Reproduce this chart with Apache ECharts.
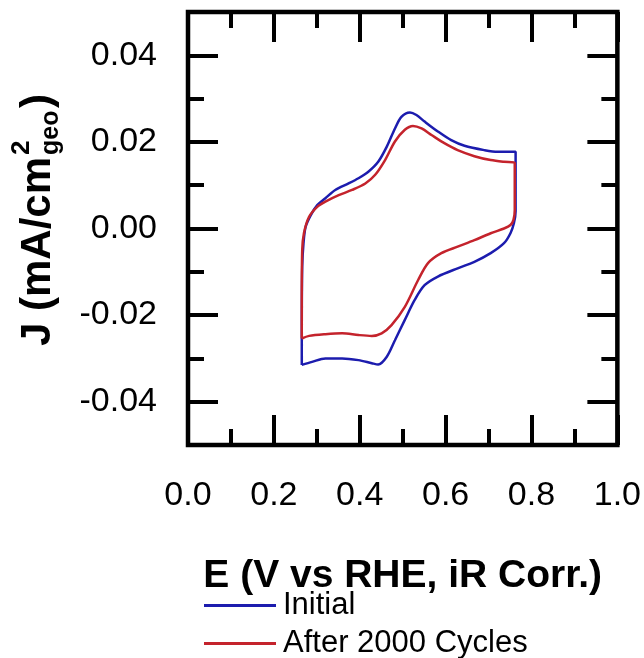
<!DOCTYPE html>
<html>
<head>
<meta charset="utf-8">
<script src="https://cdn.jsdelivr.net/npm/echarts@6/dist/echarts.min.js"></script>
<style>
html,body{margin:0;padding:0;background:#fff;}
#chart{width:644px;height:658px;}
</style>
</head>
<body>
<div id="chart"></div>
<script>
// ---- data ----
const seriesNames = ['Initial', 'After 2000 Cycles'];

const initialE = [0.265, 0.265, 0.266, 0.269, 0.274, 0.286, 0.301, 0.320, 0.343, 0.374, 0.397, 0.420, 0.443, 0.463, 0.482, 0.497, 0.517, 0.532, 0.551, 0.582, 0.613, 0.644, 0.690, 0.721, 0.763, 0.763, 0.759, 0.751, 0.736, 0.705, 0.667, 0.628, 0.582, 0.551, 0.528, 0.505, 0.482, 0.463, 0.443, 0.428, 0.397, 0.359, 0.320, 0.289, 0.265];
const initialJ = [-0.0315, -0.0242, -0.0088, -0.0034, 0.0004, 0.0031, 0.0054, 0.0070, 0.0089, 0.0104, 0.0116, 0.0131, 0.0154, 0.0189, 0.0231, 0.0258, 0.0268, 0.0262, 0.0247, 0.0224, 0.0204, 0.0191, 0.0181, 0.0177, 0.0177, 0.0040, 0.0012, -0.0011, -0.0034, -0.0057, -0.0077, -0.0092, -0.0111, -0.0131, -0.0165, -0.0211, -0.0258, -0.0296, -0.0314, -0.0311, -0.0304, -0.0300, -0.0300, -0.0308, -0.0315];

const afterE = [0.265, 0.265, 0.266, 0.270, 0.282, 0.301, 0.320, 0.351, 0.382, 0.413, 0.436, 0.459, 0.482, 0.505, 0.524, 0.544, 0.567, 0.597, 0.628, 0.667, 0.705, 0.736, 0.761, 0.761, 0.758, 0.751, 0.736, 0.705, 0.667, 0.628, 0.590, 0.559, 0.536, 0.505, 0.474, 0.451, 0.428, 0.397, 0.359, 0.320, 0.282, 0.265];
const afterJ = [-0.0254, -0.0165, -0.0050, -0.0011, 0.0027, 0.0050, 0.0062, 0.0077, 0.0089, 0.0104, 0.0124, 0.0158, 0.0201, 0.0228, 0.0237, 0.0231, 0.0216, 0.0197, 0.0181, 0.0167, 0.0158, 0.0154, 0.0152, 0.0043, 0.0020, 0.0008, 0.0000, -0.0011, -0.0027, -0.0042, -0.0057, -0.0080, -0.0119, -0.0181, -0.0223, -0.0242, -0.0248, -0.0246, -0.0242, -0.0244, -0.0248, -0.0254];

const xMajorTicks = [0.0, 0.2, 0.4, 0.6, 0.8, 1.0];
const xMinorTicks = [0.1, 0.3, 0.5, 0.7, 0.9];
const yMajorTicks = [-0.04, -0.02, 0.00, 0.02, 0.04];
const yMinorTicks = [-0.03, -0.01, 0.01, 0.03];

// ---- chart ----
const FONT = '"Liberation Sans", Arial, sans-serif';
const colors = ['#1c1cae', '#c4232c'];

function pairs(xs, ys) { return xs.map((x, i) => [x, ys[i]]); }

function tickAxis(kind, pos, values, len, withLabels) {
  const ax = {
    type: 'value', position: pos, offset: 0,
    min: kind === 'x' ? 0 : -0.05,
    max: kind === 'x' ? 1 : 0.05,
    axisLine: { show: false, onZero: false },
    splitLine: { show: false },
    axisTick: { show: true, inside: true, length: len, customValues: values,
                lineStyle: { color: '#000', width: 4 } },
    axisLabel: { show: false }
  };
  if (withLabels) {
    ax.axisLabel = {
      show: true, customValues: values,
      fontFamily: FONT, fontSize: 34, color: '#000',
      margin: kind === 'x' ? 34 : 31,
      formatter: v => kind === 'x' ? v.toFixed(1) : v.toFixed(2)
    };
  }
  return ax;
}

function legendFor(name, top) {
  return {
    data: [name], orient: 'vertical', left: 199, top: top,
    icon: 'rect', itemWidth: 72, itemHeight: 3,
    textStyle: { fontFamily: FONT, fontSize: 31, color: '#000', padding: [0, 0, 0, 2] }
  };
}

const chart = echarts.init(document.getElementById('chart'), null, { renderer: 'canvas' });
chart.setOption({
  backgroundColor: '#fff',
  animation: false,
  grid: { left: 188, right: 23, top: 12, bottom: 213, show: true,
          borderColor: '#000', borderWidth: 4.5, backgroundColor: 'transparent' },
  xAxis: [
    Object.assign(tickAxis('x', 'bottom', xMajorTicks, 30, true), {
      name: 'E (V vs RHE, iR Corr.)', nameLocation: 'middle', nameGap: 112,
      nameTextStyle: { fontFamily: FONT, fontSize: 39, fontWeight: 'bold', color: '#000' }
    }),
    tickAxis('x', 'bottom', xMinorTicks, 16, false),
    tickAxis('x', 'top', xMajorTicks, 30, false),
    tickAxis('x', 'top', xMinorTicks, 16, false)
  ],
  yAxis: [
    tickAxis('y', 'left', yMajorTicks, 30, true),
    tickAxis('y', 'left', yMinorTicks, 16, false),
    tickAxis('y', 'right', yMajorTicks, 30, false),
    tickAxis('y', 'right', yMinorTicks, 16, false)
  ],
  legend: [legendFor(seriesNames[0], 585), legendFor(seriesNames[1], 623)],
  graphic: [{
    type: 'group', x: 38, y: 346, rotation: Math.PI / 2,
    children: [
      { type: 'text', x: 0, y: 0, style: { text: 'J (mA/cm', font: 'bold 42px ' + FONT, fill: '#000', align: 'left', verticalAlign: 'middle' } },
      { type: 'text', x: 191, y: -16, style: { text: '2', font: 'bold 26px ' + FONT, fill: '#000', align: 'left', verticalAlign: 'middle' } },
      { type: 'text', x: 191, y: 13, style: { text: 'geo', font: 'bold 25px ' + FONT, fill: '#000', align: 'left', verticalAlign: 'middle' } },
      { type: 'text', x: 238, y: 0, style: { text: ')', font: 'bold 42px ' + FONT, fill: '#000', align: 'left', verticalAlign: 'middle' } }
    ]
  }],
  series: [
    { name: seriesNames[0], type: 'line', data: pairs(initialE, initialJ),
      xAxisIndex: 0, yAxisIndex: 0, symbol: 'none', smooth: 0.3,
      lineStyle: { color: colors[0], width: 2.5 }, itemStyle: { color: colors[0] } },
    { name: seriesNames[1], type: 'line', data: pairs(afterE, afterJ),
      xAxisIndex: 0, yAxisIndex: 0, symbol: 'none', smooth: 0.3,
      lineStyle: { color: colors[1], width: 2.5 }, itemStyle: { color: colors[1] } }
  ]
});
</script>
</body>
</html>
